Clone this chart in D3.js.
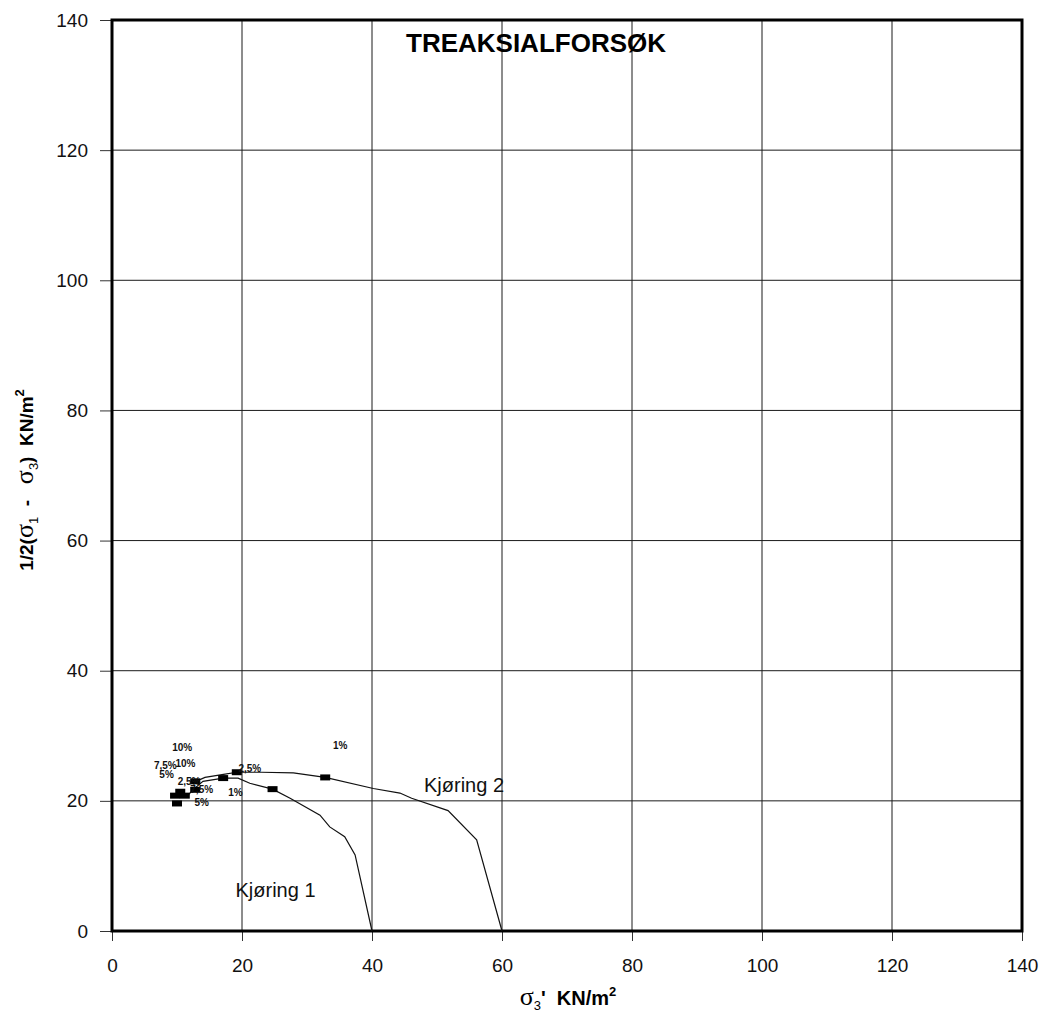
<!DOCTYPE html>
<html lang="no">
<head>
    <meta charset="UTF-8">
    <title>Treaksialforsøk</title>
    <script src="https://d3js.org/d3.v7.min.js"></script>
    <style>
        body { margin: 0; background: #fff; }
        svg { display: block; font-family: Arial, "Liberation Sans", sans-serif; }
        .grid line { stroke: #1a1a1a; stroke-width: 1; }
        .curve { fill: none; stroke: #111; stroke-width: 1.2; }
        .pt-label { font-size: 10px; font-weight: bold; fill: #111; }
        .sig { font-family: "Liberation Serif", "DejaVu Serif", serif; font-weight: normal; font-size: 26px; }
        .sub { font-size: 13px; font-weight: normal; }
    </style>
</head>
<body>
<div id="chart"></div>
<script>
    var w = 1046;
    var h = 1024;

    var xTicks = [0, 20, 40, 60, 80, 100, 120, 140];
    var yTicks = [0, 20, 40, 60, 80, 100, 120, 140];

    // Kjøring 1 stress path
    var curve1X = [11.7, 12.8, 14.0, 17.1, 19.4, 21.2, 24.7, 27.4, 32.0, 33.5, 35.8, 37.4, 40.0];
    var curve1Y = [20.9, 22.0, 23.0, 23.5, 23.5, 22.7, 21.8, 20.4, 17.8, 16.0, 14.5, 11.7, 0];
    // Kjøring 2 stress path
    var curve2X = [12.5, 14.3, 17.4, 19.2, 23.0, 27.9, 32.8, 40.2, 44.3, 46.1, 51.7, 56.1, 60.0];
    var curve2Y = [22.8, 23.6, 24.1, 24.4, 24.4, 24.3, 23.6, 21.9, 21.2, 20.4, 18.5, 14.0, 0];

    // measured points (black markers)
    var marks1X = [10.0, 11.2, 12.8, 17.1, 24.7];
    var marks1Y = [19.6, 20.8, 21.7, 23.5, 21.8];
    var marks2X = [9.7, 10.5, 12.8, 19.2, 32.8];
    var marks2Y = [20.8, 21.4, 23.0, 24.4, 23.6];

    // strain labels
    var labelText = ["10%", "7,5%", "10%", "5%", "2,5%", "7,5%", "5%", "1%", "2,5%", "1%"];
    var labelX = [10.8, 8.2, 11.3, 8.4, 11.85, 13.8, 13.8, 19.0, 21.2, 35.1];
    var labelY = [28.2, 25.5, 25.8, 24.1, 22.9, 21.7, 19.7, 21.3, 25.0, 28.5];

    var runNames = ["Kjøring 1", "Kjøring 2"];
    var runLabelX = [19.0, 48.0];
    var runLabelY = [5.2, 21.4];

    var x = d3.scaleLinear().domain([0, 140]).range([112, 1022]);
    var y = d3.scaleLinear().domain([0, 140]).range([931, 20]);

    var svg = d3.select("#chart")
        .append("svg")
        .attr("width", w)
        .attr("height", h);

    // grid
    var grid = svg.append("g").attr("class", "grid");
    grid.selectAll(".vx")
        .data(xTicks.slice(1, -1))
        .enter().append("line")
        .attr("x1", function(d) { return x(d); })
        .attr("x2", function(d) { return x(d); })
        .attr("y1", y(0))
        .attr("y2", y(140));
    grid.selectAll(".hy")
        .data(yTicks.slice(1, -1))
        .enter().append("line")
        .attr("x1", x(0))
        .attr("x2", x(140))
        .attr("y1", function(d) { return y(d); })
        .attr("y2", function(d) { return y(d); });

    // axes (outward ticks, labels drawn by d3)
    var xAxis = d3.axisBottom(x).tickValues(xTicks).tickSize(10).tickPadding(18);
    var yAxis = d3.axisLeft(y).tickValues(yTicks).tickSize(12).tickPadding(12);

    var gx = svg.append("g")
        .attr("transform", "translate(0," + y(0) + ")")
        .call(xAxis);
    var gy = svg.append("g")
        .attr("transform", "translate(" + x(0) + ",0)")
        .call(yAxis);

    [gx, gy].forEach(function(g) {
        g.select(".domain").remove();
        g.selectAll(".tick line").attr("stroke", "#333").attr("stroke-width", 1);
        g.selectAll(".tick text")
            .style("font-family", "Arial, 'Liberation Sans', sans-serif")
            .style("font-size", "19px")
            .attr("fill", "#111");
    });

    // frame
    svg.append("rect")
        .attr("x", x(0))
        .attr("y", y(140))
        .attr("width", x(140) - x(0))
        .attr("height", y(0) - y(140))
        .attr("fill", "none")
        .attr("stroke", "#000")
        .attr("stroke-width", 3);

    var line = d3.line()
        .x(function(d) { return x(d[0]); })
        .y(function(d) { return y(d[1]); });

    [[curve1X, curve1Y], [curve2X, curve2Y]].forEach(function(c) {
        svg.append("path")
            .datum(d3.zip(c[0], c[1]))
            .attr("class", "curve")
            .attr("d", line);
    });

    var marks = d3.zip(marks1X, marks1Y).concat(d3.zip(marks2X, marks2Y));
    svg.selectAll(".mark")
        .data(marks)
        .enter().append("rect")
        .attr("class", "mark")
        .attr("x", function(d) { return x(d[0]) - 5; })
        .attr("y", function(d) { return y(d[1]) - 3; })
        .attr("width", 10)
        .attr("height", 6)
        .attr("fill", "#000");

    svg.selectAll(".pt-label")
        .data(labelText)
        .enter().append("text")
        .attr("class", "pt-label")
        .attr("x", function(d, i) { return x(labelX[i]); })
        .attr("y", function(d, i) { return y(labelY[i]); })
        .attr("dy", "0.35em")
        .attr("text-anchor", "middle")
        .text(function(d) { return d; });

    svg.selectAll(".run-label")
        .data(runNames)
        .enter().append("text")
        .attr("x", function(d, i) { return x(runLabelX[i]); })
        .attr("y", function(d, i) { return y(runLabelY[i]); })
        .style("font-size", "20px")
        .attr("fill", "#111")
        .text(function(d) { return d; });

    // title
    svg.append("text")
        .attr("x", 536)
        .attr("y", 52)
        .attr("text-anchor", "middle")
        .style("font-size", "26px")
        .style("font-weight", "bold")
        .text("TREAKSIALFORSØK");

    // x axis title
    var xt = svg.append("text")
        .attr("x", 568)
        .attr("y", 1005)
        .attr("text-anchor", "middle")
        .attr("xml:space", "preserve")
        .style("font-size", "20px")
        .style("font-weight", "bold");
    xt.append("tspan").attr("class", "sig").text("σ");
    xt.append("tspan").attr("class", "sub").attr("dy", 5).text("3");
    xt.append("tspan").attr("dy", -5).text("'  KN/m");
    xt.append("tspan").attr("dy", -9).style("font-size", "13px").text("2");

    // y axis title
    var yt = svg.append("text")
        .attr("transform", "translate(33,480) rotate(-90)")
        .attr("text-anchor", "middle")
        .attr("xml:space", "preserve")
        .style("font-size", "19px")
        .style("font-weight", "bold");
    yt.append("tspan").text("1/2(");
    yt.append("tspan").attr("class", "sig").text("σ");
    yt.append("tspan").attr("class", "sub").attr("dy", 5).text("1");
    yt.append("tspan").attr("dy", -5).text("  -   ");
    yt.append("tspan").attr("class", "sig").text("σ");
    yt.append("tspan").attr("class", "sub").attr("dy", 5).text("3");
    yt.append("tspan").attr("dy", -5).text(")  KN/m");
    yt.append("tspan").attr("dy", -9).style("font-size", "13px").text("2");
</script>
</body>
</html>
